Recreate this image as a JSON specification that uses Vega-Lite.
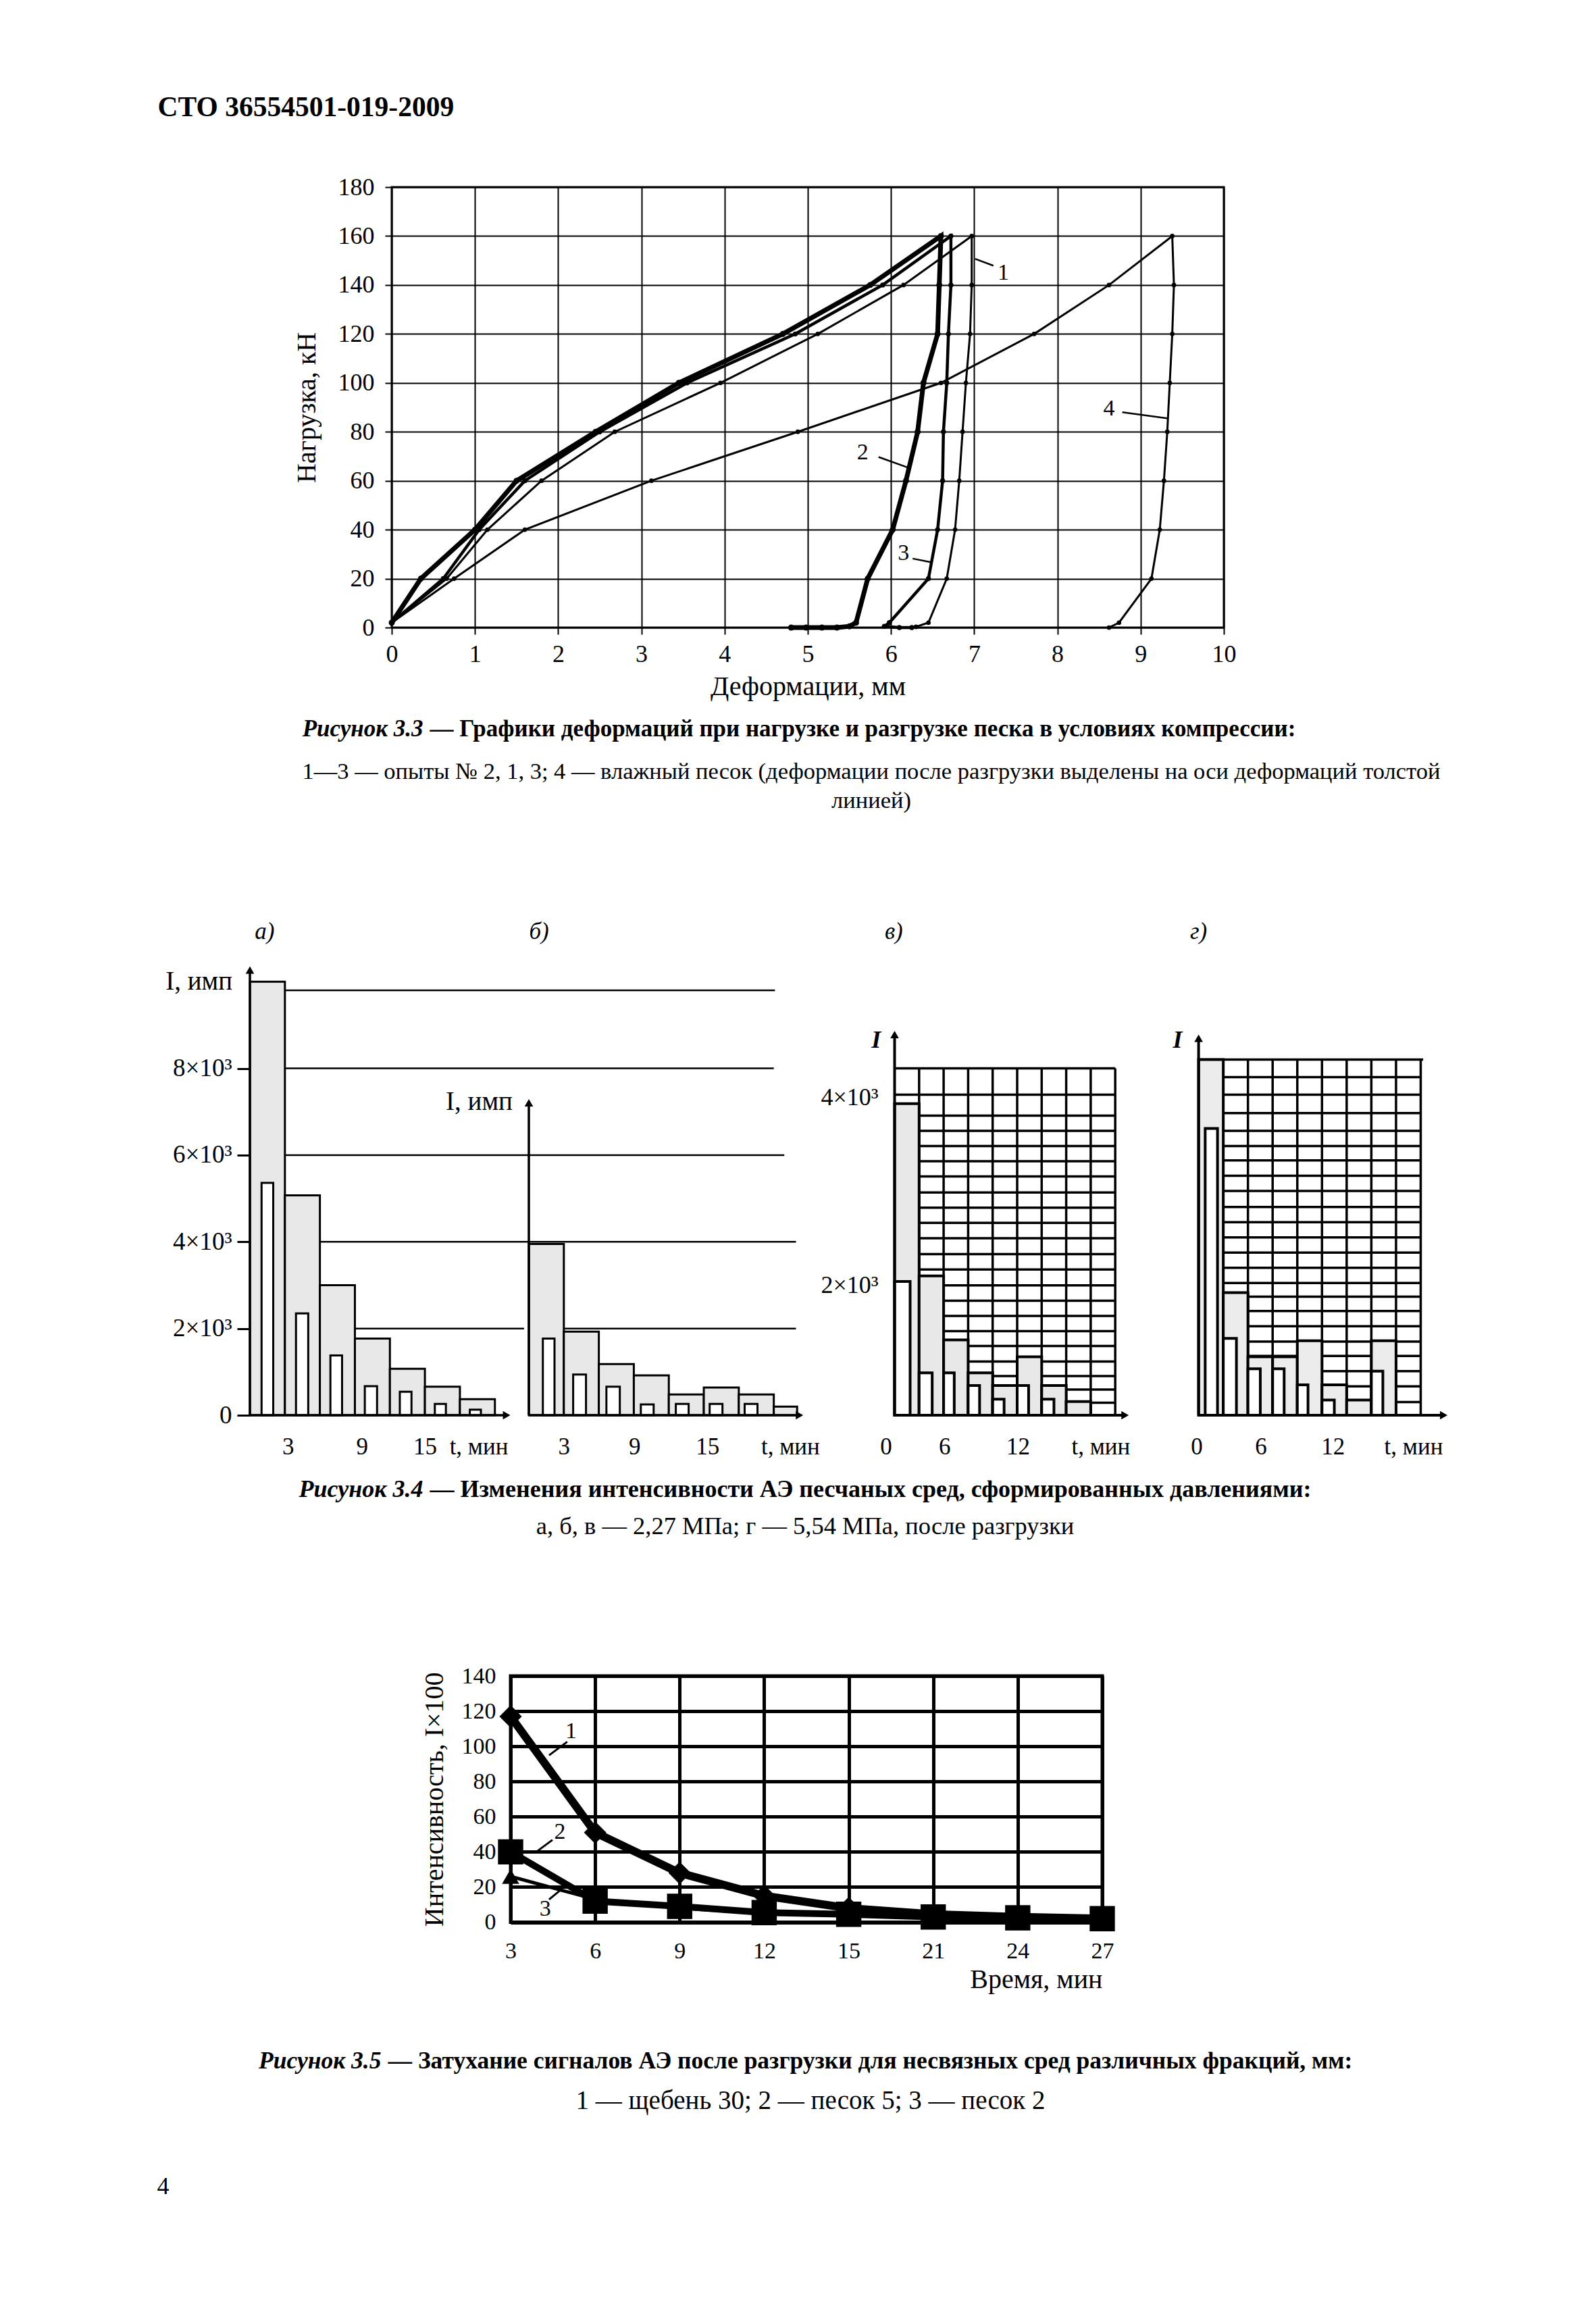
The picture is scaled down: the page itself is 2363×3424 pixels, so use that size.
{
"$schema": "https://vega.github.io/schema/vega-lite/v6.json",
"padding": 0,
"background": "white",
"spacing": 0,
"bounds": "full",
"config": {
  "view": {"stroke": null},
  "font": "Liberation Serif",
  "axis": {"labelFont": "Liberation Serif", "titleFont": "Liberation Serif", "labelColor": "black", "titleColor": "black", "titleFontWeight": "normal", "labelFontSize": 34, "titleFontSize": 36, "tickColor": "black", "domainColor": "black", "gridColor": "black", "gridOpacity": 1},
  "text": {"font": "Liberation Serif", "color": "black"}
},
"vconcat": [
  {"width": 10, "height": 129.4, "data": {"values": [{}]}, "mark": {"type": "point", "opacity": 0}},
  {"hconcat": [
    {"width": 233, "height": 60, "data": {"values": [{}]}, "mark": {"type": "point", "opacity": 0}},
    {"width": 1, "height": 60, "data": {"values": [{"t": "СТО 36554501-019-2009"}]}, "mark": {"type": "text", "align": "left", "baseline": "middle", "fontSize": 41.5, "fontWeight": "bold"}, "encoding": {"text": {"field": "t"}}}
  ], "spacing": 0, "bounds": "flush"},
  {"width": 10, "height": 66.6, "data": {"values": [{}]}, "mark": {"type": "point", "opacity": 0}},
  {"hconcat": [
    {"width": 580, "height": 764, "data": {"values": [{}]}, "mark": {"type": "point", "opacity": 0}},
    {"width": 1232, "height": 652,
     "view": {"stroke": "black", "strokeWidth": 3},
     "data": {"values": [
      {"c":"2","s":1,"x":0,"y":2},{"c":"2","s":2,"x":0.35,"y":20},{"c":"2","s":3,"x":1.0,"y":40},{"c":"2","s":4,"x":1.5,"y":60},{"c":"2","s":5,"x":2.45,"y":80},{"c":"2","s":6,"x":3.45,"y":100},{"c":"2","s":7,"x":4.7,"y":120},{"c":"2","s":8,"x":5.75,"y":140},{"c":"2","s":9,"x":6.6,"y":160},{"c":"2","s":10,"x":6.58,"y":140},{"c":"2","s":11,"x":6.56,"y":120},{"c":"2","s":12,"x":6.39,"y":100},{"c":"2","s":13,"x":6.32,"y":80},{"c":"2","s":14,"x":6.18,"y":60},{"c":"2","s":15,"x":6.02,"y":40},{"c":"2","s":16,"x":5.72,"y":20},{"c":"2","s":17,"x":5.58,"y":2},{"c":"2","s":18,"x":5.5,"y":0.5},{"c":"2","s":19,"x":5.35,"y":0},{"c":"2","s":20,"x":5.17,"y":0},{"c":"2","s":21,"x":4.98,"y":0},{"c":"2","s":22,"x":4.8,"y":0},
      {"c":"3","s":1,"x":0,"y":2},{"c":"3","s":2,"x":0.62,"y":20},{"c":"3","s":3,"x":1.05,"y":40},{"c":"3","s":4,"x":1.6,"y":60},{"c":"3","s":5,"x":2.5,"y":80},{"c":"3","s":6,"x":3.55,"y":100},{"c":"3","s":7,"x":4.85,"y":120},{"c":"3","s":8,"x":5.9,"y":140},{"c":"3","s":9,"x":6.72,"y":160},{"c":"3","s":10,"x":6.72,"y":140},{"c":"3","s":11,"x":6.69,"y":120},{"c":"3","s":12,"x":6.67,"y":100},{"c":"3","s":13,"x":6.63,"y":80},{"c":"3","s":14,"x":6.62,"y":60},{"c":"3","s":15,"x":6.56,"y":40},{"c":"3","s":16,"x":6.45,"y":20},{"c":"3","s":17,"x":5.98,"y":2},{"c":"3","s":18,"x":5.92,"y":0.5},{"c":"3","s":19,"x":6.1,"y":0},{"c":"3","s":20,"x":6.25,"y":0},
      {"c":"1","s":1,"x":0,"y":2},{"c":"1","s":2,"x":0.66,"y":20},{"c":"1","s":3,"x":1.15,"y":40},{"c":"1","s":4,"x":1.8,"y":60},{"c":"1","s":5,"x":2.68,"y":80},{"c":"1","s":6,"x":3.95,"y":100},{"c":"1","s":7,"x":5.12,"y":120},{"c":"1","s":8,"x":6.15,"y":140},{"c":"1","s":9,"x":6.97,"y":160},{"c":"1","s":10,"x":6.97,"y":140},{"c":"1","s":11,"x":6.95,"y":120},{"c":"1","s":12,"x":6.9,"y":100},{"c":"1","s":13,"x":6.86,"y":80},{"c":"1","s":14,"x":6.82,"y":60},{"c":"1","s":15,"x":6.77,"y":40},{"c":"1","s":16,"x":6.67,"y":20},{"c":"1","s":17,"x":6.45,"y":2},{"c":"1","s":18,"x":6.3,"y":0.3},
      {"c":"4","s":1,"x":0,"y":2},{"c":"4","s":2,"x":0.75,"y":20},{"c":"4","s":3,"x":1.6,"y":40},{"c":"4","s":4,"x":3.12,"y":60},{"c":"4","s":5,"x":4.88,"y":80},{"c":"4","s":6,"x":6.6,"y":100},{"c":"4","s":7,"x":7.72,"y":120},{"c":"4","s":8,"x":8.62,"y":140},{"c":"4","s":9,"x":9.38,"y":160},{"c":"4","s":10,"x":9.4,"y":140},{"c":"4","s":11,"x":9.38,"y":120},{"c":"4","s":12,"x":9.35,"y":100},{"c":"4","s":13,"x":9.32,"y":80},{"c":"4","s":14,"x":9.28,"y":60},{"c":"4","s":15,"x":9.23,"y":40},{"c":"4","s":16,"x":9.13,"y":20},{"c":"4","s":17,"x":8.74,"y":2},{"c":"4","s":18,"x":8.62,"y":0}
     ]},
     "encoding": {
      "x": {"field": "x", "type": "quantitative", "scale": {"domain": [0, 10], "nice": false},
            "axis": {"values": [0,1,2,3,4,5,6,7,8,9,10], "grid": true, "gridWidth": 2, "domain": false, "tickSize": 10, "tickWidth": 2, "labelFontSize": 36, "labelPadding": 12, "labelFlush": false, "labelOverlap": false, "title": "Деформации, мм", "titleFontSize": 40, "titlePadding": 10}},
      "y": {"field": "y", "type": "quantitative", "scale": {"domain": [0, 180], "nice": false},
            "axis": {"values": [0,20,40,60,80,100,120,140,160,180], "grid": true, "gridWidth": 2, "domain": false, "tickSize": 10, "tickWidth": 2, "labelFontSize": 36, "labelPadding": 16, "labelOverlap": false, "title": "Нагрузка, кН", "titleFontSize": 40, "titlePadding": 26}}
     },
     "layer": [
      {"transform": [{"filter": "datum.c == '4'"}], "mark": {"type": "line", "color": "black", "strokeWidth": 3, "point": {"filled": true, "size": 45, "color": "black"}}, "encoding": {"order": {"field": "s", "type": "quantitative"}}},
      {"transform": [{"filter": "datum.c == '1'"}], "mark": {"type": "line", "color": "black", "strokeWidth": 3, "point": {"filled": true, "size": 45, "color": "black"}}, "encoding": {"order": {"field": "s", "type": "quantitative"}}},
      {"transform": [{"filter": "datum.c == '3'"}], "mark": {"type": "line", "color": "black", "strokeWidth": 4.5, "point": {"filled": true, "size": 55, "color": "black"}}, "encoding": {"order": {"field": "s", "type": "quantitative"}}},
      {"transform": [{"filter": "datum.c == '2'"}], "mark": {"type": "line", "color": "black", "strokeWidth": 7, "point": {"filled": true, "size": 80, "color": "black"}}, "encoding": {"order": {"field": "s", "type": "quantitative"}}},
      {"data": {"values": [{"x":7.01,"y":150.7,"x2":7.23,"y2":147.9},{"x":5.85,"y":69.7,"x2":6.22,"y2":65.2},{"x":6.26,"y":28.2,"x2":6.47,"y2":26.8},{"x":8.78,"y":88,"x2":9.32,"y2":85.5}]},
       "mark": {"type": "rule", "color": "black", "strokeWidth": 2.5}, "encoding": {"x2": {"field": "x2"}, "y2": {"field": "y2"}}},
      {"data": {"values": [{"x":7.35,"y":145,"t":"1"},{"x":5.66,"y":71.5,"t":"2"},{"x":6.15,"y":30.5,"t":"3"},{"x":8.62,"y":89.5,"t":"4"}]},
       "mark": {"type": "text", "fontSize": 34, "baseline": "middle", "align": "center"}, "encoding": {"text": {"field": "t"}}}
     ]}
  ], "spacing": 0, "bounds": "flush"},
  {"hconcat": [
    {"width": 626, "height": 76, "data": {"values": [{}]}, "mark": {"type": "point", "opacity": 0}},
    {"width": 1, "height": 76, "data": {"values": [{"t": "Рисунок 3.3"}]}, "mark": {"type": "text", "align": "right", "baseline": "middle", "fontSize": 35, "fontWeight": "bold", "fontStyle": "italic"}, "encoding": {"text": {"field": "t"}}},
    {"width": 9, "height": 76, "data": {"values": [{}]}, "mark": {"type": "point", "opacity": 0}},
    {"width": 1, "height": 76, "data": {"values": [{"t": "— Графики деформаций при нагрузке и разгрузке песка в условиях компрессии:"}]}, "mark": {"type": "text", "align": "left", "baseline": "middle", "fontSize": 35, "fontWeight": "bold"}, "encoding": {"text": {"field": "t"}}}
  ], "spacing": 0, "bounds": "flush"},
  {"hconcat": [
    {"width": 217, "height": 51, "data": {"values": [{}]}, "mark": {"type": "point", "opacity": 0}},
    {"width": 2146, "height": 51, "data": {"values": [{"t": "1—3 — опыты № 2, 1, 3; 4 — влажный песок (деформации после разгрузки выделены на оси деформаций толстой"}]}, "mark": {"type": "text", "align": "center", "baseline": "middle", "fontSize": 34.5}, "encoding": {"text": {"field": "t"}}}
  ], "spacing": 0, "bounds": "flush"},
  {"hconcat": [
    {"width": 217, "height": 34, "data": {"values": [{}]}, "mark": {"type": "point", "opacity": 0}},
    {"width": 2146, "height": 34, "data": {"values": [{"t": "линией)"}]}, "mark": {"type": "text", "align": "center", "baseline": "middle", "fontSize": 34.5}, "encoding": {"text": {"field": "t"}}}
  ], "spacing": 0, "bounds": "flush"},
  {"width": 10, "height": 146, "data": {"values": [{}]}, "mark": {"type": "point", "opacity": 0}},
  {"hconcat": [
    {"width": 370, "height": 830.5, "data": {"values": [{}]}, "mark": {"type": "point", "opacity": 0}},
    {"width": 413, "height": 746,
     "data": {"values": [
      {"k":"grid","x":0,"x2":23.91,"y":9800,"y2":9800},{"k":"grid","x":0,"x2":23.91,"y":8000,"y2":8000},{"k":"grid","x":0,"x2":23.91,"y":6000,"y2":6000},{"k":"grid","x":0,"x2":23.91,"y":4000,"y2":4000},{"k":"grid","x":0,"x2":23.5,"y":2000,"y2":2000},
      {"k":"wide","x":0,"x2":3,"y":10000,"y2":0},{"k":"wide","x":3,"x2":6,"y":5070,"y2":0},{"k":"wide","x":6,"x2":9,"y":3000,"y2":0},{"k":"wide","x":9,"x2":12,"y":1770,"y2":0},{"k":"wide","x":12,"x2":15,"y":1070,"y2":0},{"k":"wide","x":15,"x2":18,"y":660,"y2":0},{"k":"wide","x":18,"x2":21,"y":370,"y2":0},
      {"k":"narrow","x":1.0,"x2":2.0,"y":5360,"y2":0},{"k":"narrow","x":3.95,"x2":5.0,"y":2350,"y2":0},{"k":"narrow","x":6.9,"x2":7.9,"y":1380,"y2":0},{"k":"narrow","x":9.85,"x2":10.9,"y":670,"y2":0},{"k":"narrow","x":12.85,"x2":13.85,"y":540,"y2":0},{"k":"narrow","x":15.85,"x2":16.8,"y":260,"y2":0},{"k":"narrow","x":18.85,"x2":19.8,"y":130,"y2":0},
      {"k":"axis","x":0,"x2":0,"y":0,"y2":10268},{"k":"axis","x":0,"x2":22,"y":0,"y2":0},
      {"k":"up","x":0,"y":10268},{"k":"right","x":22,"y":0},
      {"k":"ylab","x":-1.5,"y":10010,"label":"I, имп"},
      {"k":"plab","x":1.27,"y":11156,"label":"а)"}
     ]},
     "encoding": {
      "x": {"field": "x", "type": "quantitative", "scale": {"domain": [0, 23.91], "nice": false, "zero": false},
            "axis": {"values": [3.25, 9.6, 15, 19.6], "labelExpr": "datum.value < 5 ? '3' : datum.value < 12 ? '9' : datum.value < 17 ? '15' : 't, мин'", "title": null, "domain": false, "ticks": false, "grid": false, "labelFontSize": 35, "labelPadding": 29, "labelFlush": false, "labelOverlap": false}},
      "y": {"field": "y", "type": "quantitative", "scale": {"domain": [0, 11624], "nice": false},
            "axis": {"values": [0, 2000, 4000, 6000, 8000], "labelExpr": "datum.value == 0 ? '0' : (datum.value / 1000) + '×10³'", "title": null, "domain": false, "ticks": true, "tickSize": 19, "tickWidth": 3, "grid": false, "labelFontSize": 37, "labelPadding": 8, "labelOverlap": false}}
     },
     "layer": [
      {"transform": [{"filter": "datum.k == 'grid'"}], "mark": {"type": "rule", "color": "black", "strokeWidth": 2.5}, "encoding": {"x2": {"field": "x2"}, "y2": {"field": "y2"}}},
      {"transform": [{"filter": "datum.k == 'wide'"}], "mark": {"type": "rect", "fill": "#e8e8e8", "stroke": "black", "strokeWidth": 3}, "encoding": {"x2": {"field": "x2"}, "y2": {"field": "y2"}}},
      {"transform": [{"filter": "datum.k == 'narrow'"}], "mark": {"type": "rect", "fill": "white", "stroke": "black", "strokeWidth": 3}, "encoding": {"x2": {"field": "x2"}, "y2": {"field": "y2"}}},
      {"transform": [{"filter": "datum.k == 'axis'"}], "mark": {"type": "rule", "color": "black", "strokeWidth": 3.5}, "encoding": {"x2": {"field": "x2"}, "y2": {"field": "y2"}}},
      {"transform": [{"filter": "datum.k == 'up'"}], "mark": {"type": "point", "shape": "triangle-up", "filled": true, "color": "black", "size": 160, "opacity": 1}},
      {"transform": [{"filter": "datum.k == 'right'"}], "mark": {"type": "point", "shape": "triangle-right", "filled": true, "color": "black", "size": 160, "opacity": 1}},
      {"transform": [{"filter": "datum.k == 'ylab'"}], "mark": {"type": "text", "fontSize": 39, "align": "right", "baseline": "middle"}, "encoding": {"text": {"field": "label"}}},
      {"transform": [{"filter": "datum.k == 'plab'"}], "mark": {"type": "text", "fontSize": 35, "fontStyle": "italic", "align": "center", "baseline": "middle"}, "encoding": {"text": {"field": "label"}}}
     ]},
    {"width": 415, "height": 746,
     "data": {"values": [
      {"k":"grid","x":0,"x2":21.1,"y":9800,"y2":9800},{"k":"grid","x":0,"x2":21.0,"y":8000,"y2":8000},{"k":"grid","x":0,"x2":21.9,"y":6000,"y2":6000},{"k":"grid","x":0,"x2":22.9,"y":4000,"y2":4000},{"k":"grid","x":0,"x2":22.9,"y":2000,"y2":2000},
      {"k":"wide","x":0,"x2":3,"y":3950,"y2":0},{"k":"wide","x":3,"x2":6,"y":1930,"y2":0},{"k":"wide","x":6,"x2":9,"y":1180,"y2":0},{"k":"wide","x":9,"x2":12,"y":920,"y2":0},{"k":"wide","x":12,"x2":15,"y":480,"y2":0},{"k":"wide","x":15,"x2":18,"y":640,"y2":0},{"k":"wide","x":18,"x2":21,"y":480,"y2":0},{"k":"wide","x":21,"x2":23,"y":200,"y2":0},
      {"k":"narrow","x":1.2,"x2":2.2,"y":1770,"y2":0},{"k":"narrow","x":3.8,"x2":4.9,"y":940,"y2":0},{"k":"narrow","x":6.65,"x2":7.8,"y":660,"y2":0},{"k":"narrow","x":9.6,"x2":10.7,"y":250,"y2":0},{"k":"narrow","x":12.6,"x2":13.7,"y":260,"y2":0},{"k":"narrow","x":15.5,"x2":16.6,"y":260,"y2":0},{"k":"narrow","x":18.5,"x2":19.6,"y":260,"y2":0},
      {"k":"axis","x":0,"x2":0,"y":0,"y2":7206},{"k":"axis","x":0,"x2":23.2,"y":0,"y2":0},
      {"k":"up","x":0,"y":7206},{"k":"right","x":23.2,"y":0},
      {"k":"ylab","x":-1.39,"y":7230,"label":"I, имп"},
      {"k":"plab","x":0.87,"y":11156,"label":"б)"}
     ]},
     "encoding": {
      "x": {"field": "x", "type": "quantitative", "scale": {"domain": [0, 24.03], "nice": false, "zero": false},
            "axis": {"values": [3, 9.05, 15.3, 22.4], "labelExpr": "datum.value < 5 ? '3' : datum.value < 12 ? '9' : datum.value < 18 ? '15' : 't, мин'", "title": null, "domain": false, "ticks": false, "grid": false, "labelFontSize": 35, "labelPadding": 29, "labelFlush": false, "labelOverlap": false}},
      "y": {"field": "y", "type": "quantitative", "scale": {"domain": [0, 11624], "nice": false}, "axis": null}
     },
     "layer": [
      {"transform": [{"filter": "datum.k == 'grid'"}], "mark": {"type": "rule", "color": "black", "strokeWidth": 2.5}, "encoding": {"x2": {"field": "x2"}, "y2": {"field": "y2"}}},
      {"transform": [{"filter": "datum.k == 'wide'"}], "mark": {"type": "rect", "fill": "#e8e8e8", "stroke": "black", "strokeWidth": 3}, "encoding": {"x2": {"field": "x2"}, "y2": {"field": "y2"}}},
      {"transform": [{"filter": "datum.k == 'narrow'"}], "mark": {"type": "rect", "fill": "white", "stroke": "black", "strokeWidth": 3}, "encoding": {"x2": {"field": "x2"}, "y2": {"field": "y2"}}},
      {"transform": [{"filter": "datum.k == 'axis'"}], "mark": {"type": "rule", "color": "black", "strokeWidth": 3.5}, "encoding": {"x2": {"field": "x2"}, "y2": {"field": "y2"}}},
      {"transform": [{"filter": "datum.k == 'up'"}], "mark": {"type": "point", "shape": "triangle-up", "filled": true, "color": "black", "size": 160, "opacity": 1}},
      {"transform": [{"filter": "datum.k == 'right'"}], "mark": {"type": "point", "shape": "triangle-right", "filled": true, "color": "black", "size": 160, "opacity": 1}},
      {"transform": [{"filter": "datum.k == 'ylab'"}], "mark": {"type": "text", "fontSize": 39, "align": "right", "baseline": "middle"}, "encoding": {"text": {"field": "label"}}},
      {"transform": [{"filter": "datum.k == 'plab'"}], "mark": {"type": "text", "fontSize": 35, "fontStyle": "italic", "align": "center", "baseline": "middle"}, "encoding": {"text": {"field": "label"}}}
     ]},
    {"width": 111.8, "height": 746, "data": {"values": [{}]}, "mark": {"type": "point", "opacity": 0}},
    {"width": 367.8, "height": 746,
     "data": {"values": [
      {"k":"grid","x":0,"x2":27,"y":4330,"y2":4330},{"k":"grid","x":0,"x2":27,"y":4000,"y2":4000},{"k":"grid","x":0,"x2":27,"y":3740,"y2":3740},{"k":"grid","x":0,"x2":27,"y":3550,"y2":3550},{"k":"grid","x":0,"x2":27,"y":3360,"y2":3360},{"k":"grid","x":0,"x2":27,"y":3170,"y2":3170},{"k":"grid","x":0,"x2":27,"y":2980,"y2":2980},{"k":"grid","x":0,"x2":27,"y":2780,"y2":2780},{"k":"grid","x":0,"x2":27,"y":2590,"y2":2590},{"k":"grid","x":0,"x2":27,"y":2400,"y2":2400},{"k":"grid","x":0,"x2":27,"y":2210,"y2":2210},{"k":"grid","x":0,"x2":27,"y":2010,"y2":2010},{"k":"grid","x":0,"x2":27,"y":1820,"y2":1820},{"k":"grid","x":0,"x2":27,"y":1620,"y2":1620},{"k":"grid","x":0,"x2":27,"y":1430,"y2":1430},{"k":"grid","x":0,"x2":27,"y":1240,"y2":1240},{"k":"grid","x":0,"x2":27,"y":1050,"y2":1050},{"k":"grid","x":0,"x2":27,"y":865,"y2":865},{"k":"grid","x":0,"x2":27,"y":670,"y2":670},{"k":"grid","x":0,"x2":27,"y":490,"y2":490},{"k":"grid","x":0,"x2":27,"y":320,"y2":320},{"k":"grid","x":0,"x2":27,"y":155,"y2":155},
      {"k":"grid","x":3,"x2":3,"y":0,"y2":4330},{"k":"grid","x":6,"x2":6,"y":0,"y2":4330},{"k":"grid","x":9,"x2":9,"y":0,"y2":4330},{"k":"grid","x":12,"x2":12,"y":0,"y2":4330},{"k":"grid","x":15,"x2":15,"y":0,"y2":4330},{"k":"grid","x":18,"x2":18,"y":0,"y2":4330},{"k":"grid","x":21,"x2":21,"y":0,"y2":4330},{"k":"grid","x":24,"x2":24,"y":0,"y2":4330},{"k":"grid","x":27,"x2":27,"y":0,"y2":4330},
      {"k":"wide","x":0,"x2":3,"y":3890,"y2":0},{"k":"wide","x":3,"x2":6,"y":1740,"y2":0},{"k":"wide","x":6,"x2":9,"y":940,"y2":0},{"k":"wide","x":9,"x2":12,"y":530,"y2":0},{"k":"wide","x":12,"x2":15,"y":370,"y2":0},{"k":"wide","x":15,"x2":18,"y":730,"y2":0},{"k":"wide","x":18,"x2":21,"y":370,"y2":0},{"k":"wide","x":21,"x2":24,"y":170,"y2":0},
      {"k":"narrow","x":0,"x2":1.9,"y":1670,"y2":0},{"k":"narrow","x":3,"x2":4.6,"y":530,"y2":0},{"k":"narrow","x":6,"x2":7.3,"y":530,"y2":0},{"k":"narrow","x":9,"x2":10.4,"y":370,"y2":0},{"k":"narrow","x":12,"x2":13.4,"y":200,"y2":0},{"k":"narrow","x":15,"x2":16.4,"y":370,"y2":0},{"k":"narrow","x":18,"x2":19.5,"y":200,"y2":0},
      {"k":"axis","x":0,"x2":0,"y":0,"y2":4751},{"k":"axis","x":0,"x2":28.2,"y":0,"y2":0},
      {"k":"up","x":0,"y":4751},{"k":"right","x":28.2,"y":0},
      {"k":"ilab","x":-2.26,"y":4680,"label":"I"},
      {"k":"plab","x":-0.1,"y":6037,"label":"в)"}
     ]},
     "encoding": {
      "x": {"field": "x", "type": "quantitative", "scale": {"domain": [-1.2, 29.2], "nice": false, "zero": false},
            "axis": {"values": [-1.08, 6.09, 15.08, 25.2], "labelExpr": "datum.value < 2 ? '0' : datum.value < 10 ? '6' : datum.value < 20 ? '12' : 't, мин'", "title": null, "domain": false, "ticks": false, "grid": false, "labelFontSize": 35, "labelPadding": 29, "labelFlush": false, "labelOverlap": false}},
      "y": {"field": "y", "type": "quantitative", "scale": {"domain": [0, 6290], "nice": false},
            "axis": {"values": [1619, 3971], "labelExpr": "datum.value < 3000 ? '2×10³' : '4×10³'", "title": null, "domain": false, "ticks": false, "grid": false, "labelFontSize": 36, "labelPadding": 10, "labelOverlap": false}}
     },
     "layer": [
      {"transform": [{"filter": "datum.k == 'grid'"}], "mark": {"type": "rule", "color": "black", "strokeWidth": 3.5}, "encoding": {"x2": {"field": "x2"}, "y2": {"field": "y2"}}},
      {"transform": [{"filter": "datum.k == 'wide'"}], "mark": {"type": "rect", "fill": "#e8e8e8", "stroke": "black", "strokeWidth": 4}, "encoding": {"x2": {"field": "x2"}, "y2": {"field": "y2"}}},
      {"transform": [{"filter": "datum.k == 'narrow'"}], "mark": {"type": "rect", "fill": "white", "stroke": "black", "strokeWidth": 4}, "encoding": {"x2": {"field": "x2"}, "y2": {"field": "y2"}}},
      {"transform": [{"filter": "datum.k == 'axis'"}], "mark": {"type": "rule", "color": "black", "strokeWidth": 4}, "encoding": {"x2": {"field": "x2"}, "y2": {"field": "y2"}}},
      {"transform": [{"filter": "datum.k == 'up'"}], "mark": {"type": "point", "shape": "triangle-up", "filled": true, "color": "black", "size": 160, "opacity": 1}},
      {"transform": [{"filter": "datum.k == 'right'"}], "mark": {"type": "point", "shape": "triangle-right", "filled": true, "color": "black", "size": 160, "opacity": 1}},
      {"transform": [{"filter": "datum.k == 'ilab'"}], "mark": {"type": "text", "fontSize": 36, "fontStyle": "italic", "fontWeight": "bold", "align": "center", "baseline": "middle"}, "encoding": {"text": {"field": "label"}}},
      {"transform": [{"filter": "datum.k == 'plab'"}], "mark": {"type": "text", "fontSize": 35, "fontStyle": "italic", "align": "center", "baseline": "middle"}, "encoding": {"text": {"field": "label"}}}
     ]},
    {"width": 81.8, "height": 746, "data": {"values": [{}]}, "mark": {"type": "point", "opacity": 0}},
    {"width": 380, "height": 746,
     "data": {"values": [
      {"k":"grid","x":0,"x2":27.3,"y":4440,"y2":4440},{"k":"grid","x":0,"x2":27,"y":4220,"y2":4220},{"k":"grid","x":0,"x2":27,"y":4000,"y2":4000},{"k":"grid","x":0,"x2":27,"y":3770,"y2":3770},{"k":"grid","x":0,"x2":27,"y":3550,"y2":3550},{"k":"grid","x":0,"x2":27,"y":3360,"y2":3360},{"k":"grid","x":0,"x2":27,"y":3180,"y2":3180},{"k":"grid","x":0,"x2":27,"y":2990,"y2":2990},{"k":"grid","x":0,"x2":27,"y":2800,"y2":2800},{"k":"grid","x":0,"x2":27,"y":2600,"y2":2600},{"k":"grid","x":0,"x2":27,"y":2410,"y2":2410},{"k":"grid","x":0,"x2":27,"y":2220,"y2":2220},{"k":"grid","x":0,"x2":27,"y":2030,"y2":2030},{"k":"grid","x":0,"x2":27,"y":1840,"y2":1840},{"k":"grid","x":0,"x2":27,"y":1650,"y2":1650},{"k":"grid","x":0,"x2":27,"y":1480,"y2":1480},{"k":"grid","x":0,"x2":27,"y":1300,"y2":1300},{"k":"grid","x":0,"x2":27,"y":1110,"y2":1110},{"k":"grid","x":0,"x2":27,"y":920,"y2":920},{"k":"grid","x":0,"x2":27,"y":740,"y2":740},{"k":"grid","x":0,"x2":27,"y":550,"y2":550},{"k":"grid","x":0,"x2":27,"y":360,"y2":360},{"k":"grid","x":0,"x2":27,"y":165,"y2":165},
      {"k":"grid","x":3,"x2":3,"y":0,"y2":4440},{"k":"grid","x":6,"x2":6,"y":0,"y2":4440},{"k":"grid","x":9,"x2":9,"y":0,"y2":4440},{"k":"grid","x":12,"x2":12,"y":0,"y2":4440},{"k":"grid","x":15,"x2":15,"y":0,"y2":4440},{"k":"grid","x":18,"x2":18,"y":0,"y2":4440},{"k":"grid","x":21,"x2":21,"y":0,"y2":4440},{"k":"grid","x":24,"x2":24,"y":0,"y2":4440},{"k":"grid","x":27,"x2":27,"y":0,"y2":4440},
      {"k":"wide","x":0,"x2":3,"y":4440,"y2":0},{"k":"wide","x":3,"x2":6,"y":1530,"y2":0},{"k":"wide","x":6,"x2":9,"y":730,"y2":0},{"k":"wide","x":9,"x2":12,"y":730,"y2":0},{"k":"wide","x":12,"x2":15,"y":930,"y2":0},{"k":"wide","x":15,"x2":18,"y":380,"y2":0},{"k":"wide","x":18,"x2":21,"y":190,"y2":0},{"k":"wide","x":21,"x2":24,"y":930,"y2":0},
      {"k":"narrow","x":0.8,"x2":2.3,"y":3580,"y2":0},{"k":"narrow","x":3,"x2":4.6,"y":960,"y2":0},{"k":"narrow","x":6,"x2":7.5,"y":580,"y2":0},{"k":"narrow","x":9,"x2":10.4,"y":580,"y2":0},{"k":"narrow","x":12,"x2":13.3,"y":380,"y2":0},{"k":"narrow","x":15,"x2":16.5,"y":190,"y2":0},{"k":"narrow","x":21,"x2":22.4,"y":550,"y2":0},
      {"k":"axis","x":0,"x2":0,"y":0,"y2":4705},{"k":"axis","x":0,"x2":29.8,"y":0,"y2":0},
      {"k":"up","x":0,"y":4705},{"k":"right","x":29.8,"y":0},
      {"k":"ilab","x":-2.55,"y":4680,"label":"I"},
      {"k":"plab","x":0,"y":6037,"label":"г)"}
     ]},
     "encoding": {
      "x": {"field": "x", "type": "quantitative", "scale": {"domain": [-1.2, 30], "nice": false, "zero": false},
            "axis": {"values": [-0.25, 7.54, 16.3, 26.1], "labelExpr": "datum.value < 2 ? '0' : datum.value < 10 ? '6' : datum.value < 20 ? '12' : 't, мин'", "title": null, "domain": false, "ticks": false, "grid": false, "labelFontSize": 35, "labelPadding": 29, "labelFlush": false, "labelOverlap": false}},
      "y": {"field": "y", "type": "quantitative", "scale": {"domain": [0, 6290], "nice": false}, "axis": null}
     },
     "layer": [
      {"transform": [{"filter": "datum.k == 'grid'"}], "mark": {"type": "rule", "color": "black", "strokeWidth": 3.5}, "encoding": {"x2": {"field": "x2"}, "y2": {"field": "y2"}}},
      {"transform": [{"filter": "datum.k == 'wide'"}], "mark": {"type": "rect", "fill": "#ececec", "stroke": "black", "strokeWidth": 4}, "encoding": {"x2": {"field": "x2"}, "y2": {"field": "y2"}}},
      {"transform": [{"filter": "datum.k == 'narrow'"}], "mark": {"type": "rect", "fill": "white", "stroke": "black", "strokeWidth": 4}, "encoding": {"x2": {"field": "x2"}, "y2": {"field": "y2"}}},
      {"transform": [{"filter": "datum.k == 'axis'"}], "mark": {"type": "rule", "color": "black", "strokeWidth": 4}, "encoding": {"x2": {"field": "x2"}, "y2": {"field": "y2"}}},
      {"transform": [{"filter": "datum.k == 'up'"}], "mark": {"type": "point", "shape": "triangle-up", "filled": true, "color": "black", "size": 160, "opacity": 1}},
      {"transform": [{"filter": "datum.k == 'right'"}], "mark": {"type": "point", "shape": "triangle-right", "filled": true, "color": "black", "size": 160, "opacity": 1}},
      {"transform": [{"filter": "datum.k == 'ilab'"}], "mark": {"type": "text", "fontSize": 36, "fontStyle": "italic", "fontWeight": "bold", "align": "center", "baseline": "middle"}, "encoding": {"text": {"field": "label"}}},
      {"transform": [{"filter": "datum.k == 'plab'"}], "mark": {"type": "text", "fontSize": 35, "fontStyle": "italic", "align": "center", "baseline": "middle"}, "encoding": {"text": {"field": "label"}}}
     ]}
  ], "spacing": 0, "bounds": "flush"},
  {"hconcat": [
    {"width": 626, "height": 50, "data": {"values": [{}]}, "mark": {"type": "point", "opacity": 0}},
    {"width": 1, "height": 50, "data": {"values": [{"t": "Рисунок 3.4"}]}, "mark": {"type": "text", "align": "right", "baseline": "middle", "fontSize": 36, "fontWeight": "bold", "fontStyle": "italic"}, "encoding": {"text": {"field": "t"}}},
    {"width": 9, "height": 50, "data": {"values": [{}]}, "mark": {"type": "point", "opacity": 0}},
    {"width": 1, "height": 50, "data": {"values": [{"t": "— Изменения интенсивности АЭ песчаных сред, сформированных давлениями:"}]}, "mark": {"type": "text", "align": "left", "baseline": "middle", "fontSize": 36, "fontWeight": "bold"}, "encoding": {"text": {"field": "t"}}}
  ], "spacing": 0, "bounds": "flush"},
  {"hconcat": [
    {"width": 21, "height": 59, "data": {"values": [{}]}, "mark": {"type": "point", "opacity": 0}},
    {"width": 2342, "height": 59, "data": {"values": [{"t": "а, б, в — 2,27 МПа; г — 5,54 МПа, после разгрузки"}]}, "mark": {"type": "text", "align": "center", "baseline": "middle", "fontSize": 36.5}, "encoding": {"text": {"field": "t"}}}
  ], "spacing": 0, "bounds": "flush"},
  {"width": 10, "height": 171.5, "data": {"values": [{}]}, "mark": {"type": "point", "opacity": 0}},
  {"hconcat": [
    {"width": 756, "height": 544.7, "data": {"values": [{}]}, "mark": {"type": "point", "opacity": 0}},
    {"width": 876, "height": 364.5,
     "view": {"stroke": "black", "strokeWidth": 5},
     "data": {"values": [
      {"s":"1","k":1,"v":117},{"s":"1","k":2,"v":51},{"s":"1","k":3,"v":28},{"s":"1","k":4,"v":15},{"s":"1","k":5,"v":8},{"s":"1","k":6,"v":4.5},{"s":"1","k":7,"v":3},{"s":"1","k":8,"v":2},
      {"s":"2","k":1,"v":40},{"s":"2","k":2,"v":12},{"s":"2","k":3,"v":9},{"s":"2","k":4,"v":5.5},{"s":"2","k":5,"v":4.5},{"s":"2","k":6,"v":3},{"s":"2","k":7,"v":2.5},{"s":"2","k":8,"v":2},
      {"s":"3","k":1,"v":26},{"s":"3","k":2,"v":13},{"s":"3","k":3,"v":8},{"s":"3","k":4,"v":5},{"s":"3","k":5,"v":4},{"s":"3","k":6,"v":3},{"s":"3","k":7,"v":2.5},{"s":"3","k":8,"v":2}
     ]},
     "encoding": {
      "x": {"field": "k", "type": "quantitative", "scale": {"domain": [1, 8], "nice": false, "zero": false},
            "axis": {"values": [1,2,3,4,5,6,7,8], "labelExpr": "['3','6','9','12','15','21','24','27'][datum.value - 1]", "grid": true, "gridWidth": 5, "domain": false, "ticks": false, "labelPadding": 26, "labelFlush": false, "labelOverlap": false, "title": "Время, мин", "titleFontSize": 40, "titleAnchor": "end", "titlePadding": 5}},
      "y": {"field": "v", "type": "quantitative", "scale": {"domain": [0, 140], "nice": false},
            "axis": {"values": [0,20,40,60,80,100,120,140], "grid": true, "gridWidth": 5, "domain": false, "ticks": false, "labelPadding": 22, "labelOverlap": false, "title": "Интенсивность, I×100", "titleFontSize": 40, "titlePadding": 20}}
     },
     "layer": [
      {"transform": [{"filter": "datum.s == '1'"}], "mark": {"type": "line", "color": "black", "strokeWidth": 12, "point": {"shape": "diamond", "filled": true, "size": 1100, "color": "black"}}},
      {"transform": [{"filter": "datum.s == '3'"}], "mark": {"type": "line", "color": "black", "strokeWidth": 5, "point": {"shape": "triangle-up", "filled": true, "size": 650, "color": "black"}}},
      {"transform": [{"filter": "datum.s == '2'"}], "mark": {"type": "line", "color": "black", "strokeWidth": 10, "point": {"shape": "square", "filled": true, "size": 1400, "color": "black"}}},
      {"data": {"values": [{"k":1.67,"v":102.6,"k2":1.455,"v2":94.9},{"k":1.495,"v":46.8,"k2":1.304,"v2":40},{"k":1.455,"v":12.9,"k2":1.583,"v2":18}]},
       "mark": {"type": "rule", "color": "black", "strokeWidth": 3}, "encoding": {"x2": {"field": "k2"}, "y2": {"field": "v2"}}},
      {"data": {"values": [{"k":1.715,"v":108.4,"t":"1"},{"k":1.583,"v":51.4,"t":"2"},{"k":1.41,"v":7.3,"t":"3"}]},
       "mark": {"type": "text", "fontSize": 34, "align": "center", "baseline": "middle"}, "encoding": {"text": {"field": "t"}}}
     ]}
  ], "spacing": 0, "bounds": "flush"},
  {"hconcat": [
    {"width": 564, "height": 50, "data": {"values": [{}]}, "mark": {"type": "point", "opacity": 0}},
    {"width": 1, "height": 50, "data": {"values": [{"t": "Рисунок 3.5"}]}, "mark": {"type": "text", "align": "right", "baseline": "middle", "fontSize": 35.5, "fontWeight": "bold", "fontStyle": "italic"}, "encoding": {"text": {"field": "t"}}},
    {"width": 9, "height": 50, "data": {"values": [{}]}, "mark": {"type": "point", "opacity": 0}},
    {"width": 1, "height": 50, "data": {"values": [{"t": "— Затухание сигналов АЭ после разгрузки для несвязных сред различных фракций, мм:"}]}, "mark": {"type": "text", "align": "left", "baseline": "middle", "fontSize": 35.5, "fontWeight": "bold"}, "encoding": {"text": {"field": "t"}}}
  ], "spacing": 0, "bounds": "flush"},
  {"hconcat": [
    {"width": 37, "height": 67.8, "data": {"values": [{}]}, "mark": {"type": "point", "opacity": 0}},
    {"width": 2326, "height": 67.8, "data": {"values": [{"t": "1 — щебень 30; 2 — песок 5; 3 — песок 2"}]}, "mark": {"type": "text", "align": "center", "baseline": "middle", "fontSize": 39}, "encoding": {"text": {"field": "t"}}}
  ], "spacing": 0, "bounds": "flush"},
  {"hconcat": [
    {"width": 232, "height": 185, "data": {"values": [{}]}, "mark": {"type": "point", "opacity": 0}},
    {"width": 1, "height": 185, "data": {"values": [{"t": "4"}]}, "mark": {"type": "text", "align": "left", "baseline": "middle", "fontSize": 36}, "encoding": {"text": {"field": "t"}}}
  ], "spacing": 0, "bounds": "flush"}
]
}
